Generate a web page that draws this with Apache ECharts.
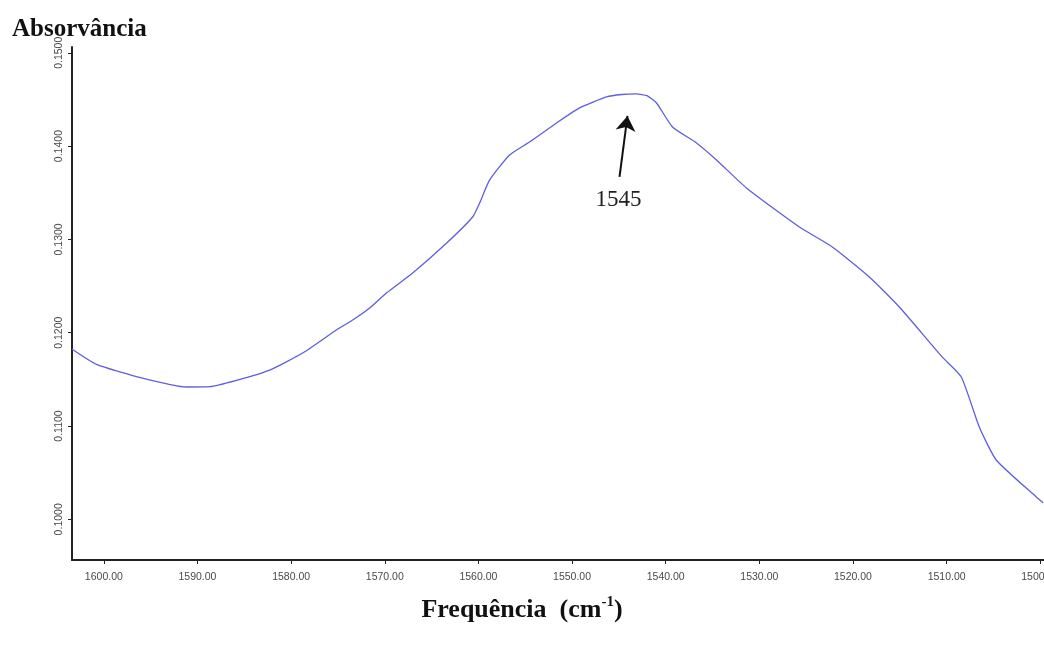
<!DOCTYPE html>
<html>
<head>
<meta charset="utf-8">
<script src="https://cdn.jsdelivr.net/npm/echarts@6/dist/echarts.min.js"></script>
<style>
html,body{margin:0;padding:0;background:#fff;}
#chart{width:1044px;height:646px;}
</style>
</head>
<body>
<div id="chart"></div>
<script>
// Wavenumber (cm-1) and absorbance
const freq = [1603.42, 1600.78, 1596.51, 1591.17, 1588.69, 1585.84, 1582.28, 1578.76, 1575.17, 1573.43,
  1571.61, 1569.83, 1567.02, 1563.39, 1560.62, 1559.87, 1558.80, 1556.67, 1554.54, 1551.65,
  1549.20, 1546.32, 1544.70, 1543.12, 1542.00, 1540.98, 1539.27, 1536.71, 1534.58, 1531.38,
  1525.72, 1522.20, 1518.25, 1515.05, 1510.46, 1508.43, 1506.51, 1504.70, 1500.43, 1499.68];
const absorb = [0.11825, 0.11660, 0.11530, 0.11418, 0.11422, 0.11490, 0.11600, 0.11782, 0.12029, 0.12136,
  0.12265, 0.12425, 0.12640, 0.12961, 0.13240, 0.13390, 0.13637, 0.13905, 0.14044, 0.14248,
  0.14409, 0.14527, 0.14553, 0.14559, 0.14540, 0.14462, 0.14205, 0.14034, 0.13852, 0.13552,
  0.13133, 0.12919, 0.12597, 0.12275, 0.11739, 0.11525, 0.10989, 0.10636, 0.10240, 0.10178];

const xTicks = [1500, 1510, 1520, 1530, 1540, 1550, 1560, 1570, 1580, 1590, 1600];
const yTicks = [0.10, 0.11, 0.12, 0.13, 0.14, 0.15];

// Peak annotation (arrow from label to peak)
const peakLabel = '1545';
const arrowFrom = [1544.93, 0.13669];
const arrowTo = [1544.08, 0.14323];
const labelAt = [1545.04, 0.13423];

const chart = echarts.init(document.getElementById('chart'), null, {renderer: 'canvas'});

const sans = 'Liberation Sans, Arial, sans-serif';
const serif = 'Liberation Serif, Times New Roman, serif';

chart.setOption({
  animation: false,
  backgroundColor: '#ffffff',
  title: [
    {
      text: 'Absorvância',
      left: 7, top: 12,
      textStyle: {fontFamily: serif, fontWeight: 'bold', fontSize: 25, color: '#111'}
    },
    {
      text: 'Frequência  (cm{sup|-1})',
      left: 'center', top: 590,
      textStyle: {
        fontFamily: serif, fontWeight: 'bold', fontSize: 26, color: '#111', lineHeight: 30,
        rich: {sup: {fontFamily: serif, fontWeight: 'bold', fontSize: 15, color: '#111', verticalAlign: 'top', lineHeight: 30, padding: [0, 0, 12, 0]}}
      }
    }
  ],
  grid: {left: 72, top: 47, width: 972, height: 513, containLabel: false, outerBoundsMode: 'none'},
  xAxis: {
    type: 'value',
    inverse: true,
    min: 1499.6,
    max: 1603.4,
    splitLine: {show: false},
    axisLine: {show: true, lineStyle: {color: '#222', width: 2}},
    axisTick: {show: true, length: 4, customValues: xTicks, lineStyle: {color: '#222', width: 1}},
    axisLabel: {
      customValues: xTicks, margin: 12, hideOverlap: false,
      fontFamily: sans, fontSize: 10.5, color: '#4a4a4a',
      formatter: v => v.toFixed(2)
    }
  },
  yAxis: {
    type: 'value',
    min: 0.09564,
    max: 0.15062,
    splitLine: {show: false},
    axisLine: {show: true, lineStyle: {color: '#222', width: 2}},
    axisTick: {show: true, length: 4, customValues: yTicks, lineStyle: {color: '#222', width: 1}},
    axisLabel: {
      customValues: yTicks, margin: 7, rotate: 90,
      fontFamily: sans, fontSize: 10.5, color: '#4a4a4a',
      formatter: v => v.toFixed(4)
    }
  },
  series: [{
    type: 'line',
    data: freq.map((f, i) => [f, absorb[i]]),
    showSymbol: false,
    smooth: 0.18,
    clip: true,
    lineStyle: {color: '#5e5ee0', width: 1.3},
    markLine: {
      silent: true,
      symbol: ['none', 'arrow'],
      symbolSize: 15,
      label: {show: false},
      lineStyle: {color: '#111', width: 2, type: 'solid'},
      data: [[{coord: arrowFrom}, {coord: arrowTo}]]
    },
    markPoint: {
      silent: true,
      symbol: 'circle',
      symbolSize: 0,
      label: {show: true, formatter: peakLabel, fontFamily: serif, fontSize: 23, color: '#222', position: 'inside'},
      data: [{coord: labelAt}]
    }
  }]
});
</script>
</body>
</html>
